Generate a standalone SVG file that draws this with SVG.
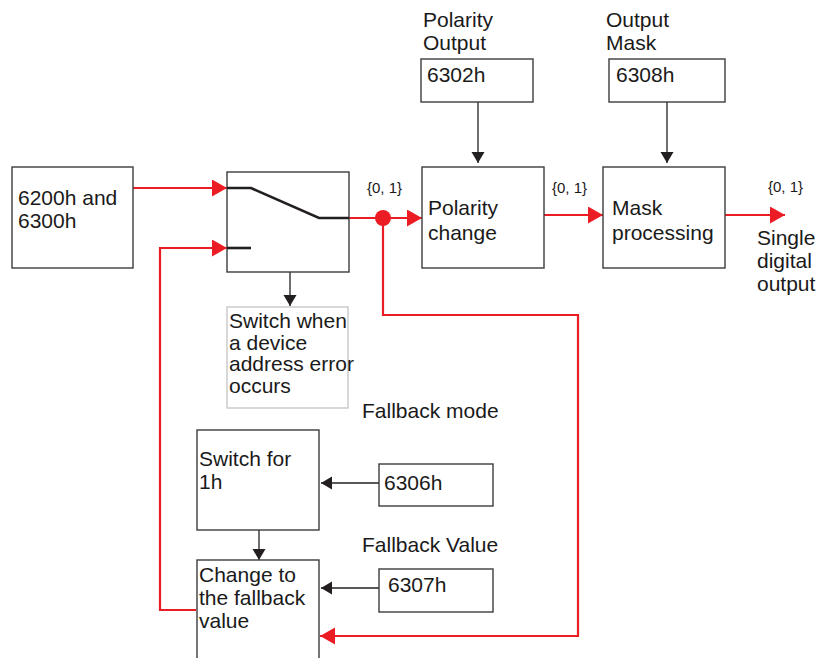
<svg xmlns="http://www.w3.org/2000/svg" width="820" height="658" viewBox="0 0 820 658">
  <style>
    .box { fill: #ffffff; stroke: #3c3c3c; stroke-width: 1.4; }
    .box-light { fill: #ffffff; stroke: #c8c8c8; stroke-width: 1.4; }
    text { font-family: "Liberation Sans", Arial, sans-serif; font-size: 21px; fill: #1a1a1a; }
    .small { font-size: 15px; }
    .sig { fill: none; stroke: #ec1c24; stroke-width: 2.2; }
    .ctl { fill: none; stroke: #231f20; stroke-width: 1.3; }
    .sw { fill: none; stroke: #231f20; stroke-width: 2.6; }
  </style>
  <defs>
    <marker id="arrRed" markerUnits="userSpaceOnUse" markerWidth="16" markerHeight="18" refX="15" refY="8.5" orient="auto">
      <path d="M0,0 L15,8.5 L0,17 z" fill="#ec1c24"/>
    </marker>
    <marker id="arrBlk" markerUnits="userSpaceOnUse" markerWidth="12" markerHeight="14" refX="11" refY="6.5" orient="auto">
      <path d="M0,0 L11,6.5 L0,13 z" fill="#231f20"/>
    </marker>
  </defs>

  <rect width="820" height="658" fill="#ffffff"/>

  <!-- connectors -->
  <g id="connectors">
    <!-- signal path (red) -->
    <path class="sig" d="M133,188 H227" marker-end="url(#arrRed)"/>
    <path class="sig" d="M196,610 H160 V248 H227" marker-end="url(#arrRed)"/>
    <path class="sig" d="M349,218 H422" marker-end="url(#arrRed)"/>
    <path class="sig" d="M383,218 V315 H578 V636 H320" marker-end="url(#arrRed)"/>
    <circle cx="383" cy="218" r="8" fill="#ec1c24"/>
    <path class="sig" d="M544,215 H603" marker-end="url(#arrRed)"/>
    <path class="sig" d="M725,215 H785" marker-end="url(#arrRed)"/>

    <!-- parameter inputs (black) -->
    <path class="ctl" d="M478,102 V163" marker-end="url(#arrBlk)"/>
    <path class="ctl" d="M667,102 V163" marker-end="url(#arrBlk)"/>
    <path class="ctl" d="M379,483 H321" marker-end="url(#arrBlk)"/>
    <path class="ctl" d="M379,588 H321" marker-end="url(#arrBlk)"/>
    <path class="ctl" d="M259,530 V560" marker-end="url(#arrBlk)"/>
    <path class="ctl" d="M290,205 V306" stroke-width="2.6" marker-end="url(#arrBlk)"/>
  </g>

  <!-- source objects -->
  <g id="node-input">
    <rect class="box" x="12" y="167" width="121" height="101"/>
    <text x="18" y="205">6200h and</text>
    <text x="18" y="228">6300h</text>
  </g>

  <!-- changeover switch -->
  <g id="node-switch">
    <rect class="box" x="227" y="172" width="122" height="100"/>
    <path class="sw" d="M227,188 H251 L319,218 H349"/>
    <path class="sw" d="M227,248 H251"/>
  </g>

  <g id="node-switch-note">
    <rect class="box-light" x="227" y="307" width="121" height="101"/>
    <text x="229" y="328">Switch when</text>
    <text x="229" y="350">a device</text>
    <text x="229" y="371">address error</text>
    <text x="229" y="393">occurs</text>
  </g>

  <g id="node-polarity-output">
    <text x="423" y="27">Polarity</text>
    <text x="423" y="50">Output</text>
    <rect class="box" x="421" y="59" width="112" height="43"/>
    <text x="427" y="82">6302h</text>
  </g>

  <g id="node-output-mask">
    <text x="606" y="27">Output</text>
    <text x="606" y="50">Mask</text>
    <rect class="box" x="609" y="59" width="116" height="43"/>
    <text x="616" y="82">6308h</text>
  </g>

  <g id="node-polarity-change">
    <rect class="box" x="422" y="167" width="122" height="101"/>
    <text x="428" y="215">Polarity</text>
    <text x="428" y="240">change</text>
  </g>

  <g id="node-mask-processing">
    <rect class="box" x="603" y="167" width="122" height="101"/>
    <text x="612" y="215">Mask</text>
    <text x="612" y="240">processing</text>
  </g>

  <!-- value range labels -->
  <g id="labels-range">
    <text class="small" x="367" y="193">{0, 1}</text>
    <text class="small" x="552" y="193">{0, 1}</text>
    <text class="small" x="768" y="192">{0, 1}</text>
  </g>

  <g id="node-single-output">
    <text x="757" y="245">Single</text>
    <text x="757" y="268">digital</text>
    <text x="757" y="291">output</text>
  </g>

  <g id="node-fallback-mode">
    <text x="362" y="418">Fallback mode</text>
    <rect class="box" x="379" y="464" width="114" height="42"/>
    <text x="384" y="490">6306h</text>
  </g>

  <g id="node-fallback-value">
    <text x="362" y="552">Fallback Value</text>
    <rect class="box" x="379" y="569" width="114" height="43"/>
    <text x="388" y="592">6307h</text>
  </g>

  <g id="node-switch-for">
    <rect class="box" x="197" y="430" width="122" height="100"/>
    <text x="199" y="466">Switch for</text>
    <text x="199" y="489">1h</text>
  </g>

  <g id="node-change-fallback">
    <rect class="box" x="197" y="560" width="122" height="110"/>
    <text x="199" y="582">Change to</text>
    <text x="199" y="605">the fallback</text>
    <text x="199" y="628">value</text>
  </g>
</svg>
